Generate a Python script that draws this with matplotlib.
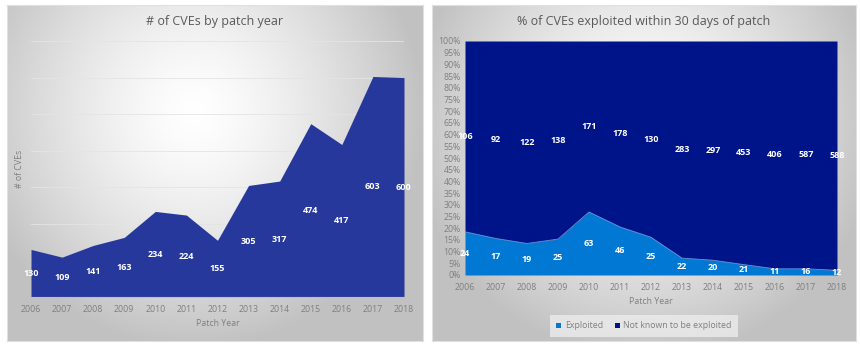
import numpy as np
import matplotlib
matplotlib.use("Agg")
import matplotlib.pyplot as plt

plt.rcParams['font.family'] = ['Open Sans', 'DejaVu Sans']

# data
years = [2006, 2007, 2008, 2009, 2010, 2011, 2012, 2013, 2014, 2015, 2016, 2017, 2018]
exploited = [24, 17, 19, 25, 63, 46, 25, 22, 20, 21, 11, 16, 12]
not_exploited = [106, 92, 122, 138, 171, 178, 130, 283, 297, 453, 406, 587, 588]
total = [e + n for e, n in zip(exploited, not_exploited)]

W, H = 860, 344
fig = plt.figure(figsize=(W / 100, H / 100), dpi=100)
fig.patch.set_facecolor('white')


def px(x0, y0, x1, y1):
    # pixel box -> figure rect
    return [x0 / W, 1 - y1 / H, (x1 - x0) / W, (y1 - y0) / H]


def panel_bg(rect, cx, cy):
    # radial grey gradient like the excel chart area
    ax = fig.add_axes(rect, zorder=0)
    yy, xx = np.mgrid[0:1:200j, 0:1:300j]
    d = np.sqrt(((xx - cx) / 0.55) ** 2 + ((yy - cy) / 0.7) ** 2)
    d = np.clip(d, 0, 1)
    g = 1 - 0.24 * d ** 1.4
    img = np.dstack([g, g, g])
    ax.imshow(img, extent=[0, 1, 0, 1], aspect='auto', origin='upper')
    ax.set_xticks([])
    ax.set_yticks([])
    for s in ax.spines.values():
        s.set_color('#E0E0E0')
        s.set_linewidth(0.8)
    return ax


panel_bg(px(7, 5, 423, 341), 0.45, 0.32)
panel_bg(px(432, 5, 856, 341), 0.5, 0.35)

gray = '#7F7F7F'
title_c = '#595959'
fs = 6.3

# ---- left chart
ax1 = fig.add_axes(px(31, 41, 404, 297), zorder=2)
ax1.patch.set_alpha(0)
ax1.fill_between(years, total, 0, color='#27389C', lw=0)
ax1.set_xlim(2006, 2018)
ax1.set_ylim(0, 700)
ax1.set_yticks(range(0, 701, 100))
ax1.set_yticklabels([])
ax1.yaxis.grid(True, color='#E4E4E4', lw=0.6)
ax1.set_axisbelow(True)
ax1.tick_params(axis='y', length=0)
ax1.tick_params(axis='x', length=0, labelsize=fs, colors=gray, pad=6)
ax1.set_xticks(years)
for s in ['top', 'right', 'left']:
    ax1.spines[s].set_visible(False)
ax1.spines['bottom'].set_color('#BFBFBF')
ax1.set_xlabel('Patch Year', fontsize=fs, color=gray, labelpad=3)
ax1.set_ylabel('# of CVEs', fontsize=fs, color=gray)
ax1.yaxis.set_label_coords(-7 / 373, 0.5)
for x, t in zip(years, total):
    ax1.text(x, t / 2, str(t), color='white', fontsize=6.5, fontweight='bold',
             ha='center', va='center', zorder=5)
fig.text(215 / W, 1 - 22 / H, '# of CVEs by patch year', fontsize=9,
         color=title_c, ha='center', va='center')

# ---- right chart
ax2 = fig.add_axes(px(465, 41, 837, 275), zorder=2)
ax2.patch.set_alpha(0)
pe = np.array(exploited) / np.array(total)
ax2.fill_between(years, pe, 0, color='#0078D4', lw=0, label='Exploited')
ax2.fill_between(years, 1, pe, color='#001489', lw=0, label='Not known to be exploited')
ax2.plot(years, pe, color='#5E9BE0', lw=0.6)
ax2.set_xlim(2006, 2018)
ax2.set_ylim(0, 1)
pct = np.arange(0, 1.0001, 0.05)
ax2.set_yticks(pct)
ax2.set_yticklabels(['%d%%' % round(v * 100) for v in pct])
ax2.set_xticks(years)
ax2.tick_params(axis='both', length=0, labelsize=fs, colors=gray)
ax2.tick_params(axis='x', pad=6)
ax2.tick_params(axis='y', pad=3)
for s in ax2.spines.values():
    s.set_visible(False)
ax2.set_xlabel('Patch Year', fontsize=fs, color=gray, labelpad=3)
for x, e, n, p in zip(years, exploited, not_exploited, pe):
    ax2.text(x, p / 2, str(e), color='white', fontsize=6.5, fontweight='bold',
             ha='center', va='center', zorder=5)
    ax2.text(x, p + (1 - p) / 2, str(n), color='white', fontsize=6.5, fontweight='bold',
             ha='center', va='center', zorder=5)
fig.text(644 / W, 1 - 22 / H, '% of CVEs exploited within 30 days of patch', fontsize=9,
         color=title_c, ha='center', va='center')

leg = ax2.legend(loc='center', bbox_to_anchor=(644 / W, 1 - 326 / H),
                 bbox_transform=fig.transFigure, ncol=2, frameon=True,
                 fontsize=fs, handlelength=0.55, handleheight=0.55, handletextpad=0.4,
                 columnspacing=1.4, borderpad=0.45)
leg.get_frame().set_facecolor('#ECECEC')
leg.get_frame().set_edgecolor('none')
leg.get_frame().set_boxstyle('square')
for t in leg.get_texts():
    t.set_color(gray)

fig.savefig('out.png', dpi=100)
